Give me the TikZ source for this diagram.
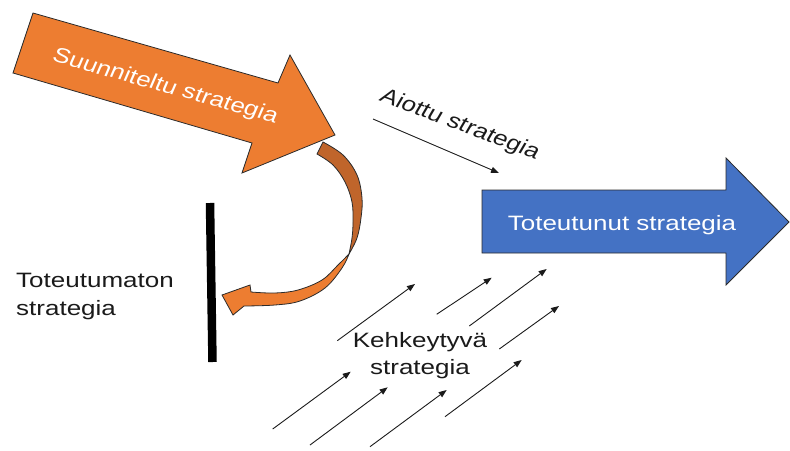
\documentclass[tikz,border=0pt]{standalone}
\usepackage{fontspec}
\setmainfont{Liberation Sans}
\usetikzlibrary{arrows.meta}
\definecolor{orng}{HTML}{ED7D31}
\definecolor{orngdark}{HTML}{C0652B}
\definecolor{blu}{HTML}{4472C4}
\definecolor{edge}{HTML}{2B2B2B}
\definecolor{ink}{HTML}{1A1A1A}
\begin{document}
\begin{tikzpicture}[x=1pt,y=-1pt,
  shapeedge/.style={draw=edge, line width=0.8pt, line join=miter},
  lbl/.style={font=\fontsize{26}{34}\selectfont, inner sep=0pt, text=ink, yscale=0.8},
  thinarrow/.style={draw=ink, line width=0.9pt, -{Triangle[length=8pt,width=6pt]}},
]
\useasboundingbox (0,0) rectangle (790,450);

% planned strategy arrow (orange)
\filldraw[fill=orng, shapeedge] (33,13) -- (278,83) -- (290,55) -- (335,135) -- (242,173) -- (252,143) -- (13,73) -- cycle;

% curved arrow: dark back part
\filldraw[fill=orngdark, shapeedge] (317,154) -- plot[smooth, tension=0.6] coordinates {(323,142) (343,155) (357,175) (362,198) (361,218) (357,238) (349,254)}
  -- plot[smooth, tension=0.6] coordinates {(349,254) (352,238) (353,222) (352,202) (345,182) (333,165) (317,154)} -- cycle;
% curved arrow: light front part with head
\filldraw[fill=orng, shapeedge] plot[smooth, tension=0.6] coordinates {(349,254) (338,265) (322,280) (298,290) (275,293) (251,292)}
  -- (250,285) -- (222,295) -- (233,315) -- (244,306)
  -- plot[smooth, tension=0.6] coordinates {(244,306) (275,305) (300,301) (325,288) (342,268) (349,254)} -- cycle;

% unrealized strategy bar
\draw[line width=8.5pt, black] (210,203) -- (212.5,362);

% realized strategy arrow (blue)
\filldraw[fill=blu, shapeedge] (482,190) -- (726,190) -- (726,158) -- (789,222) -- (726,285) -- (726,253) -- (482,253) -- cycle;

% texts
\node[lbl, text=white, anchor=base, rotate=-19.1] (suun) at (163,92) {Suunniteltu strategia};
\node[lbl, text=white, anchor=base] (toteut) at (622,230) {Toteutunut strategia};
\node[lbl, anchor=base, rotate=-25.1] (aiottu) at (457,130) {Aiottu strategia};
\node[lbl, anchor=west, align=left] (toteum) at (16,296.4) {Toteutumaton\\strategia};
\node[lbl, align=center] (kehk) at (420,355.4) {Kehkeytyvä\\strategia};

% intended strategy arrow
\coordinate (ai1) at (373,119);
\coordinate (ai2) at (499,173);
\draw[thinarrow] (ai1) -- (ai2);

% emergent strategy arrows
\coordinate (e1s) at (337.3,340.7); \coordinate (e1e) at (415,284);
\coordinate (e2s) at (436.7,314.3); \coordinate (e2e) at (491.7,277.7);
\coordinate (e3s) at (469.3,326);   \coordinate (e3e) at (546.7,269);
\coordinate (e4s) at (499.3,349);   \coordinate (e4e) at (559,306);
\coordinate (e5s) at (272.7,429);   \coordinate (e5e) at (350.7,371.7);
\coordinate (e6s) at (310,445);     \coordinate (e6e) at (387.7,387.3);
\coordinate (e7s) at (370,446.7);   \coordinate (e7e) at (446.7,390);
\coordinate (e8s) at (445,416.7);   \coordinate (e8e) at (521.7,360);
\foreach \i in {1,...,8} {\draw[thinarrow] (e\i s) -- (e\i e);}
\end{tikzpicture}
\end{document}
